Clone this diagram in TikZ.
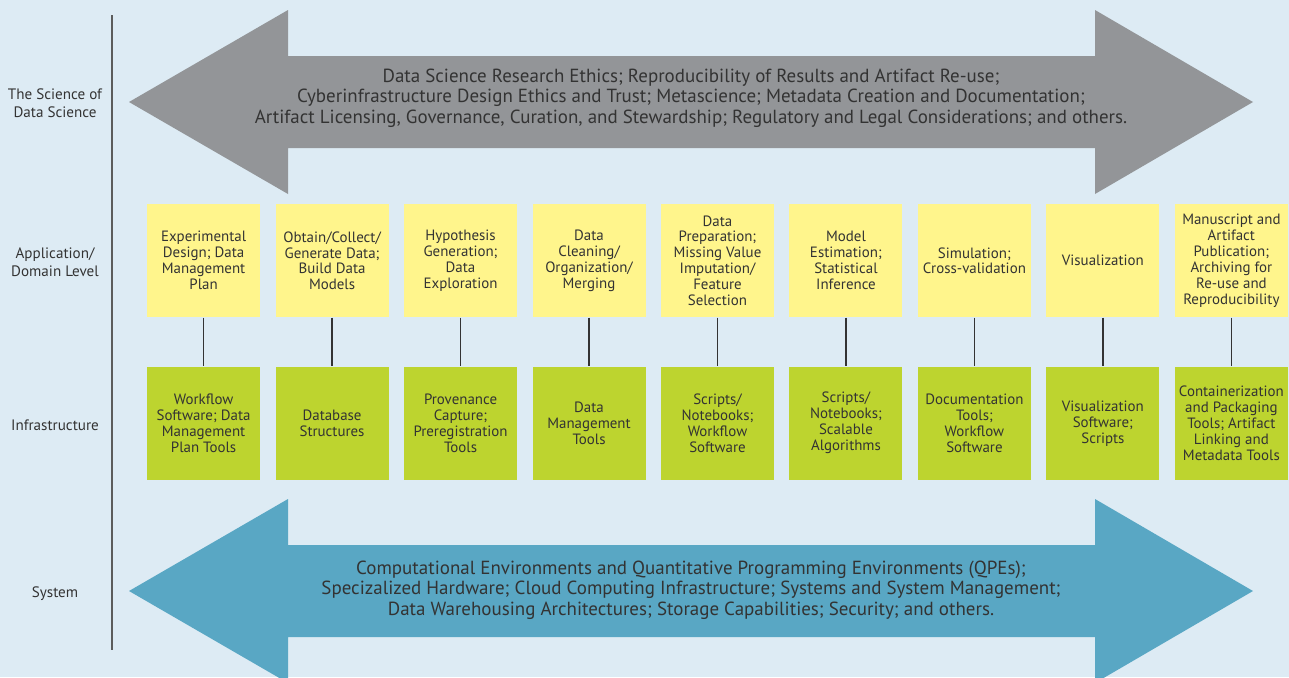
\documentclass[tikz,border=0pt]{standalone}
\usepackage{fontspec}
\setmainfont{PT Sans}
\usepackage{tikz}

\definecolor{paper}{HTML}{DDEBF4}
\definecolor{ink}{HTML}{333333}
\definecolor{bandgray}{HTML}{939598}
\definecolor{bandblue}{HTML}{59A7C4}
\definecolor{taskyellow}{HTML}{FFF58C}
\definecolor{toolgreen}{HTML}{BDD42F}

\begin{document}
\begin{tikzpicture}[x=0.02cm, y=-0.02cm,
    every node/.style={text=ink},
    level/.style={font=\fontsize{8.6}{10.2}\selectfont, align=center},
    band/.style={font=\fontsize{10.8}{11.6}\selectfont, align=center},
    task/.style={fill=taskyellow, minimum size=2.26cm, inner sep=0pt,
      align=center, font=\fontsize{8.5}{9.1}\selectfont},
    tool/.style={task, fill=toolgreen},
    link/.style={draw=ink, line width=0.7pt}]
  \clip (0,0) rectangle (1289,677);
  \fill[paper] (0,0) rectangle (1289,677);

  % level names and the rule beside them
  \node[level] (L1) at (55,103) {The Science of\\Data Science};
  \node[level] (L2) at (55,262) {Application/\\Domain Level};
  \node[level] (L3) at (55,425) {Infrastructure};
  \node[level] (L4) at (55,594) {System};
  \draw[draw=ink!80, line width=0.8pt] (112,15) -- (112,650);

  % two-headed bands
  \fill[bandgray] (129,102) -- (288,10) -- (288,56) -- (1095,56) -- (1095,10)
    -- (1253,102) -- (1095,194) -- (1095,148) -- (288,148) -- (288,194) -- cycle;
  \node[band] (S) at (691,98) {Data Science Research Ethics; Reproducibility of Results and Artifact Re-use;\\
    Cyberinfrastructure Design Ethics and Trust; Metascience; Metadata Creation and Documentation;\\
    Artifact Licensing, Governance, Curation, and Stewardship; Regulatory and Legal Considerations; and others.};

  \fill[bandblue] (129,591) -- (288,499) -- (288,545) -- (1095,545) -- (1095,499)
    -- (1253,591) -- (1095,683) -- (1095,637) -- (288,637) -- (288,683) -- cycle;
  \node[band] (Y) at (691,590) {Computational Environments and Quantitative Programming Environments (QPEs);\\
    Specizalized Hardware; Cloud Computing Infrastructure; Systems and System Management;\\
    Data Warehousing Architectures; Storage Capabilities; Security; and others.};

  % application steps over their tools
  \matrix[column sep={2.57cm,between origins}, row sep={3.25cm,between origins}] at (717.5,342)
  {
    \node[task](A1) {Experimental\\Design; Data\\Management\\Plan};
    & \node[task](A2) {Obtain/Collect/\\Generate Data;\\Build Data\\Models};
    & \node[task](A3) {Hypothesis\\Generation;\\Data\\Exploration};
    & \node[task](A4) {Data\\Cleaning/\\Organization/\\Merging};
    & \node[task](A5) {Data\\Preparation;\\Missing Value\\Imputation/\\Feature\\Selection};
    & \node[task](A6) {Model\\Estimation;\\Statistical\\Inference};
    & \node[task](A7) {Simulation;\\Cross-validation};
    & \node[task](A8) {Visualization};
    & \node[task](A9) {Manuscript and\\Artifact\\Publication;\\Archiving for\\Re-use and\\Reproducibility};\\
    \node[tool](I1) {Workflow\\Software; Data\\Management\\Plan Tools};
    & \node[tool](I2) {Database\\Structures};
    & \node[tool](I3) {Provenance\\Capture;\\Preregistration\\Tools};
    & \node[tool](I4) {Data\\Management\\Tools};
    & \node[tool](I5) {Scripts/\\Notebooks;\\Workflow\\Software};
    & \node[tool](I6) {Scripts/\\Notebooks;\\Scalable\\Algorithms};
    & \node[tool](I7) {Documentation\\Tools;\\Workflow\\Software};
    & \node[tool](I8) {Visualization\\Software;\\Scripts};
    & \node[tool](I9) {Containerization\\and Packaging\\Tools; Artifact\\Linking and\\Metadata Tools};\\
  };
  \draw[link] (A1) -- (I1);
  \draw[link] (A2) -- (I2);
  \draw[link] (A3) -- (I3);
  \draw[link] (A4) -- (I4);
  \draw[link] (A5) -- (I5);
  \draw[link] (A6) -- (I6);
  \draw[link] (A7) -- (I7);
  \draw[link] (A8) -- (I8);
  \draw[link] (A9) -- (I9);
\end{tikzpicture}
\end{document}
